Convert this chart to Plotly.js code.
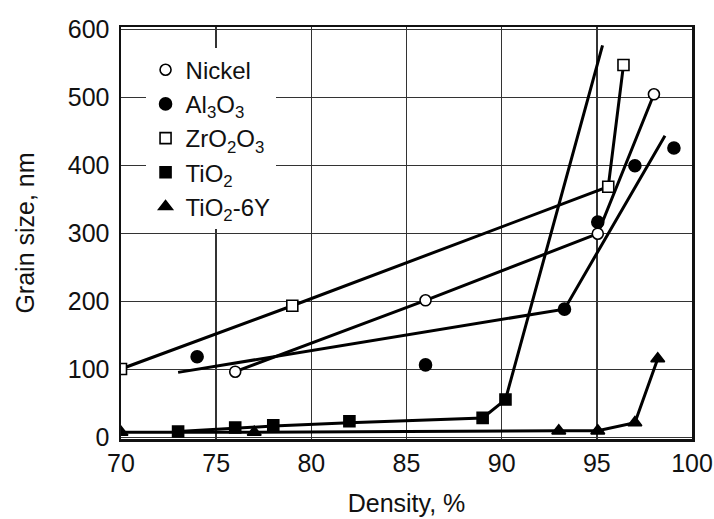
<!DOCTYPE html>
<html>
<head>
<meta charset="utf-8">
<script src="https://cdn.plot.ly/plotly-3.0.1.min.js"></script>
<style>html,body{margin:0;padding:0;background:#fff;}#chart{width:714px;height:519px;}</style>
</head>
<body>
<div id="chart"></div>
<script>
// Marker data (Density %, Grain size nm)
const nickelX = [76, 86, 95.05, 98];
const nickelY = [97, 202, 300, 505];
const al2o3X = [74, 86, 93.3, 95.05, 97, 99.05];
const al2o3Y = [119, 107, 189, 317, 400, 426];
const zro2X = [70, 79, 95.6, 96.4];
const zro2Y = [101, 194, 369, 548];
const tio2X = [73, 76, 78, 82, 89, 90.2];
const tio2Y = [9, 15, 18, 24, 29, 56];
const tio26yX = [70, 77, 93, 95.05, 97, 98.2];
const tio26yY = [8, 8, 10, 10, 22, 116];

// Drawn curves (fitted lines)
const nickelLineX = [76, 86, 95.05, 98];
const nickelLineY = [97, 202, 300, 505];
const al2o3LineX = [73, 93.3, 98.58];
const al2o3LineY = [96, 189, 444];
const zro2LineX = [70, 79, 95.6, 96.4];
const zro2LineY = [101, 194, 369, 548];
const tio2LineX = [73, 76, 78, 82, 89, 90.2, 95.3];
const tio2LineY = [9, 14, 17, 22, 29, 56, 577];
const tio26yLineX = [70, 77, 93, 95.05, 97, 98.2];
const tio26yLineY = [8, 8, 10, 10, 22, 116];

const names = ['Nickel', 'Al<sub>3</sub>O<sub>3</sub>', 'ZrO<sub>2</sub>O<sub>3</sub>', 'TiO<sub>2</sub>', 'TiO<sub>2</sub>-6Y'];

const lineStyle = {color: '#000', width: 3};
function lineTrace(x, y) {
  return {x: x, y: y, type: 'scatter', mode: 'lines', line: lineStyle, showlegend: false, hoverinfo: 'skip'};
}
function markTrace(x, y, name, symbol, fill, size) {
  return {x: x, y: y, type: 'scatter', mode: 'markers', name: name,
    marker: {symbol: symbol, size: size, color: fill, line: {color: '#000', width: 1.6}}};
}

const data = [
  lineTrace(nickelLineX, nickelLineY),
  lineTrace(al2o3LineX, al2o3LineY),
  lineTrace(zro2LineX, zro2LineY),
  lineTrace(tio2LineX, tio2LineY),
  lineTrace(tio26yLineX, tio26yLineY),
  markTrace(nickelX, nickelY, names[0], 'circle', '#fff', 11),
  markTrace(al2o3X, al2o3Y, names[1], 'circle', '#000', 12),
  markTrace(zro2X, zro2Y, names[2], 'square', '#fff', 11),
  markTrace(tio2X, tio2Y, names[3], 'square', '#000', 11),
  markTrace(tio26yX, tio26yY, names[4], 'triangle-up', '#000', 12)
];

const fam = '"Liberation Sans", Arial, Helvetica, sans-serif';
const font = {family: fam, size: 25, color: '#111'};
const legFont = {family: fam, size: 24, color: '#111'};

const layout = {
  width: 714, height: 519,
  margin: {l: 120.5, r: 22, t: 27, b: 80},
  paper_bgcolor: '#fff', plot_bgcolor: '#fff',
  font: font,
  showlegend: true,
  legend: {x: 0.043, y: 0.95, xanchor: 'left', yanchor: 'top', bgcolor: '#fff', borderwidth: 0,
    font: legFont, tracegroupgap: 0, itemwidth: 30},
  xaxis: {
    range: [70, 100], tickvals: [70, 75, 80, 85, 90, 95, 100],
    showgrid: true, gridcolor: '#333', gridwidth: 1.5,
    showline: true, linecolor: '#111', linewidth: 2.5, mirror: true,
    zeroline: false, ticks: '', ticklen: 0,
    tickfont: font,
    title: {text: 'Density, %', font: font, standoff: 19}
  },
  yaxis: {
    range: [-2, 604], tickvals: [0, 100, 200, 300, 400, 500, 600],
    showgrid: true, gridcolor: '#333', gridwidth: 1.5,
    showline: true, linecolor: '#111', linewidth: 2.5, mirror: true,
    zeroline: false, ticks: '', ticklen: 0, ticklabelstandoff: 4,
    tickfont: font,
    title: {text: 'Grain size, nm', font: font, standoff: 26}
  }
};

Plotly.newPlot('chart', data, layout, {displayModeBar: false, staticPlot: true});
</script>
</body>
</html>
